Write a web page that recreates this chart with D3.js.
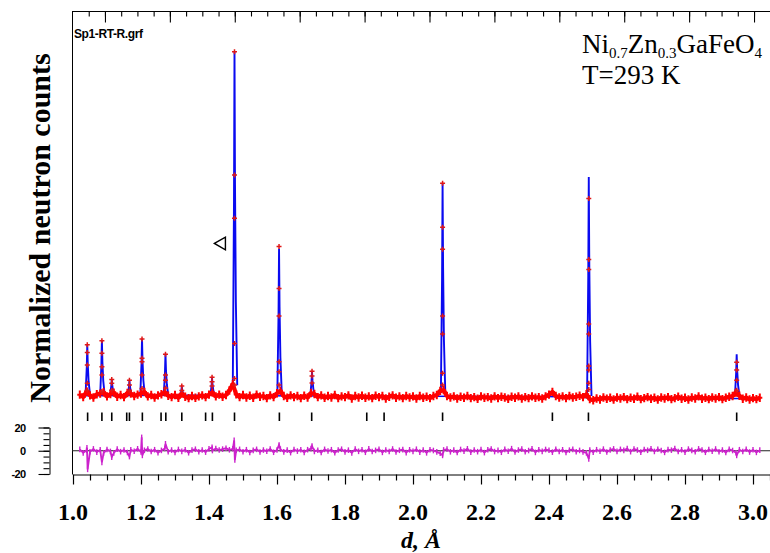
<!DOCTYPE html>
<html><head><meta charset="utf-8">
<script src="https://cdn.jsdelivr.net/npm/d3@7"></script>
<style>body{margin:0;background:#fff}svg{display:block}</style>
</head><body><svg id="c" width="770" height="553"></svg>
<script>
// ---------------- data ----------------
const obsStart = 1.02, obsStep = 0.01;
// observed background (normalized counts) every 0.01 Å from 1.02 to 3.02
const obsBackground = [
 5.3,4.6,6.2,5.1,4.5,5.4,5.6,6.0,
 4.8,5.5,5.9,4.7,5.2,4.6,5.8,5.6,4.9,5.3,
 5.6,6.1,4.8,5.2,4.5,5.1,5.4,6.0,5.0,4.6,
 5.2,4.4,5.6,4.7,4.3,4.9,4.4,4.8,5.1,4.6,
 5.3,5.9,4.8,5.3,4.7,5.2,6.5,8.3,5.4,4.6,
 5.2,4.5,5.0,4.4,5.3,4.7,4.9,4.3,5.1,4.6,
 5.7,6.4,4.9,4.4,5.1,4.6,4.9,4.3,5.0,4.5,
 5.8,5.5,4.6,5.1,4.4,4.9,4.5,5.2,4.3,4.8,
 4.6,5.1,4.2,4.9,4.5,5.0,4.4,4.8,4.3,5.0,
 4.6,4.9,4.2,4.7,5.1,4.4,4.8,4.3,4.9,4.5,
 4.8,4.2,4.9,4.4,4.7,4.3,4.9,5.2,6.4,6.6,
 4.9,4.5,4.8,4.2,4.7,4.4,4.9,4.3,4.6,4.1,
 4.8,4.4,4.6,4.2,4.8,4.3,4.7,4.5,4.1,4.7,
 4.4,4.8,4.2,4.6,4.3,4.8,4.4,4.6,4.2,4.8,
 5.3,6.1,4.9,4.5,4.8,4.3,4.9,4.5,4.7,5.0,
 4.6,5.4,4.0,3.7,4.2,3.9,4.5,4.1,4.4,3.9,
 4.5,4.2,4.6,4.0,4.4,4.1,4.7,4.0,4.3,4.6,
 4.1,4.4,3.9,4.5,4.2,4.6,4.0,4.3,4.7,4.1,
 4.4,3.9,4.5,4.2,4.8,4.1,4.4,4.0,4.5,4.2,
 4.6,4.0,4.4,4.7,4.9,5.9,5.0,4.1,4.5,3.9,
 4.3,4.0,4.4
];
// difference curve (obs - calc) on the same grid
const residual = [
 1.2,-1.8,0.5,-0.9,1.6,-1.2,0.8,-2.0,
 1.1,-0.6,-1.9,1.4,-0.8,0.6,-1.5,0.9,-0.4,1.7,
 -1.1,0.4,1.5,-0.7,0.9,-1.6,0.3,2.0,-0.8,0.6,
 -1.4,1.1,-0.5,0.8,-1.7,0.5,1.3,-0.9,0.7,-1.2,
 1.6,0.2,1.9,0.6,1.4,2.1,0.8,1.7,0.4,1.2,
 -0.8,0.9,-1.5,0.3,1.2,-1.1,0.6,-0.4,1.5,-1.3,
 0.7,1.4,-1.0,0.5,-1.6,1.1,-0.3,0.8,-1.4,0.9,
 1.8,-0.6,0.4,-1.5,1.2,-0.2,0.9,-1.7,0.6,1.3,
 -1.0,0.5,-1.8,1.4,-0.5,0.8,-1.3,1.6,-0.7,0.3,
 1.2,-1.4,0.7,-0.6,1.5,-1.1,0.4,1.0,-1.6,0.8,
 -0.5,1.3,-1.2,0.6,-1.8,0.9,0.2,-1.0,-2.2,0.7,
 1.4,-0.9,0.5,-1.5,1.1,-0.3,1.7,-1.2,0.6,-0.8,
 1.0,-1.6,0.8,1.5,-0.7,0.3,-1.3,1.2,-0.4,1.8,
 -1.1,0.6,1.4,-0.9,0.2,1.6,-1.4,0.9,-0.5,1.1,
 0.4,-1.2,1.3,-0.6,0.8,-1.5,0.5,1.2,-0.8,0.3,
 -1.0,-1.8,0.6,-1.3,0.9,-0.4,1.4,-1.1,0.7,1.6,
 -0.5,1.2,0.3,1.8,-0.8,1.5,0.6,-1.2,1.1,0.4,
 1.7,-0.6,1.3,0.2,-1.4,1.0,0.5,1.9,-0.7,0.8,
 -1.2,1.4,0.3,-0.9,1.6,0.7,-1.3,1.1,-0.4,1.5,
 -0.8,0.6,-1.5,1.2,0.2,-1.7,0.9,-0.6,1.3,-1.1,
 0.8,-1.4,0.5
];
// difference spikes at the reflections
const residSpikeD = [1.041,1.043,1.085,1.114,1.166,1.202,1.204,1.272,1.409,1.474,1.476,1.606,1.703,2.087,2.517,2.952];
const residSpikeV = [2.5,-16,-10,-5.5,-5,11.5,-4,6,3,9,-8,5,4,-4,-7,-4];

// Bragg peaks: position, calculated top, profile base, observed points on the peak
const peakD    = [1.042,1.085,1.114,1.166,1.203,1.272,1.320,1.409,1.475,1.606,1.703,2.087,2.517,2.952];
const peakCalc = [19.7,21.0,9.8,9.3,21.4,17.1,7.6,10.1,104.6,47.5,12.0,66.4,68.2,17.0];
const peakBase = [5.4,5.4,5.2,5.2,5.4,5.3,4.9,5.1,8.0,5.6,5.2,5.8,4.9,5.2];
const peakObs = [
 [19.7,17.5,13.9,8.6,6.6],
 [20.9,17.3,13.4,11.0,6.2],
 [9.7,8.6,6.6],
 [9.5,8.1,6.4],
 [21.4,15.8,14.8,11.0,7.1],
 [17.0,11.0,9.5,7.2],
 [7.8,6.5],
 [10.3,9.0,7.8],
 [104.4,68.8,56.3,20.1,10.0,8.1],
 [48.1,36.0,28.0,14.8,11.9,8.1],
 [12.1,10.7,8.7],
 [66.4,53.7,47.3,28.0,22.8,11.5,8.1],
 [62.0,44.4,41.5,25.7,22.8,13.6,12.4,8.6,6.8],
 [14.7,12.4,9.5,6.6]
];
// calculated background knots
const calcBgD = [1.02,1.45,1.47,1.48,2.50,2.52,3.02];
const calcBgV = [5.0,5.2,8.0,5.0,4.7,4.1,4.2];
// reflection positions (tick marks)
const braggD = [1.043,1.085,1.114,1.158,1.166,1.204,1.259,1.273,1.320,1.390,1.410,1.475,
                1.607,1.702,1.864,1.915,2.087,2.410,2.516,2.952];
// axis ticks
const xMajor = [1.0,1.2,1.4,1.6,1.8,2.0,2.2,2.4,2.6,2.8,3.0];
const xTickLabels = ["1.0","1.2","1.4","1.6","1.8","2.0","2.2","2.4","2.6","2.8","3.0"];
const residMajor = [-20,0,20];
const residLabels = ["-20","0","20"];
// annotation marker
const noteD = [1.4375], noteV = [49];

// ---------------- drawing ----------------
const svg = d3.select("#c");
const x = d3.scaleLinear().domain([1.0,3.05]).range([73,770]);
const y = d3.scaleLinear().domain([0,100]).range([413,67]);
const yr = d3.scaleLinear().domain([-20,20]).range([474,427.5]);

const serif = "'Liberation Serif','Times New Roman',serif";
const sans = "'Liberation Sans',Arial,sans-serif";

// frame
svg.append("line").attr("x1",72.5).attr("x2",72.5).attr("y1",11.5).attr("y2",474.5).attr("stroke","#000");
svg.append("line").attr("x1",72).attr("x2",770).attr("y1",11.5).attr("y2",11.5).attr("stroke","#000");

// bottom axis
const xMinor = d3.range(0,42).map(i=>+(1.0+i*0.05).toFixed(2)).filter(v=>!xMajor.some(m=>Math.abs(m-v)<1e-6));
const gB = svg.append("g").attr("transform","translate(0,474.5)");
gB.call(d3.axisBottom(x).tickValues(xMajor).tickSize(10).tickSizeOuter(0).tickFormat(""));
gB.append("g").call(d3.axisBottom(x).tickValues(xMinor).tickSize(6).tickSizeOuter(0).tickFormat(""))
  .select(".domain").remove();
gB.selectAll("line").attr("stroke","#000").attr("stroke-width",1.2);
gB.selectAll(".domain").attr("stroke","#000");
svg.selectAll(".xlab").data(xMajor).enter().append("text")
  .attr("x",d=>x(d)).attr("y",520).attr("text-anchor","middle")
  .attr("font-family",serif).attr("font-weight","bold").attr("font-size",24)
  .text((d,i)=>xTickLabels[i]);
svg.append("text").attr("x",421).attr("y",548).attr("text-anchor","middle")
  .attr("font-family",serif).attr("font-weight","bold").attr("font-style","italic").attr("font-size",24)
  .text("d, Å");

// top axis (time-of-flight style ticks, no labels)
const topAnchor = 3.003, topStep = 0.1909;
const topMajor = d3.range(0,11).map(k=>topAnchor-k*topStep).filter(v=>v>=1.0);
const topMinor = d3.range(0,45).map(k=>topAnchor-k*topStep/4).filter(v=>v>=1.0);
const gT = svg.append("g").attr("transform","translate(0,11.5)");
gT.call(d3.axisBottom(x).tickValues(topMajor).tickSize(11).tickSizeOuter(0).tickFormat(""));
gT.append("g").call(d3.axisBottom(x).tickValues(topMinor).tickSize(5).tickSizeOuter(0).tickFormat("")).select(".domain").remove();
gT.selectAll("line").attr("stroke","#000").attr("stroke-width",1.1);
gT.selectAll(".domain").remove();

// residual axis
const gR = svg.append("g").attr("transform","translate(49.5,0)");
gR.call(d3.axisLeft(yr).tickValues(residMajor).tickSize(11).tickSizeOuter(0).tickPadding(13)
  .tickFormat((d,i)=>residLabels[i]));
gR.append("g").call(d3.axisLeft(yr).tickValues(d3.range(-20,21,5)).tickSize(6).tickSizeOuter(0).tickFormat(""))
  .select(".domain").remove();
gR.selectAll("line").attr("stroke","#000").attr("stroke-width",1.1);
gR.selectAll(".domain").attr("stroke","#000");
gR.selectAll("text").attr("font-family",sans).attr("font-weight","bold").attr("font-size",11)
  .attr("letter-spacing",-0.6).attr("fill","#000");

// y label
svg.append("text").attr("transform","translate(50,228) rotate(-90)").attr("text-anchor","middle")
  .attr("font-family",serif).attr("font-weight","bold").attr("font-size",30).text("Normalized neutron counts");

// file label
svg.append("text").attr("x",74).attr("y",37.5).attr("font-family",sans).attr("font-weight","bold")
  .attr("font-size",12).attr("letter-spacing",-0.4).text("Sp1-RT-R.grf");

// title
const t1 = svg.append("text").attr("x",582).attr("y",53).attr("font-family",serif).attr("font-size",27);
[["Ni",0],["0.7",1],["Zn",0],["0.3",1],["GaFeO",0],["4",1]].forEach(([s,sub])=>{
  const ts = t1.append("tspan").text(s);
  if(sub){ ts.attr("font-size",15).attr("dy",5); } else { ts.attr("dy", t1.node().childNodes.length>1?-5:0); }
});
svg.append("text").attr("x",582).attr("y",84).attr("font-family",serif).attr("font-size",27).text("T=293 K");

// calculated profile (blue): background + one spike per reflection
const line = d3.line().x(p=>x(p[0])).y(p=>y(p[1]));
svg.append("path").attr("d",line(calcBgD.map((d,i)=>[d,calcBgV[i]])))
  .attr("fill","none").attr("stroke","#0a0af0").attr("stroke-width",1.5);
const spikes = peakD.map((d,i)=>{
  const b=peakBase[i], h=peakCalc[i];
  return [[d-0.005,b],[d-0.0015,b+0.55*(h-b)],[d,h],[d+0.0015,b+0.6*(h-b)],[d+0.004,b+0.25*(h-b)],[d+0.008,b]];
});
svg.append("g").selectAll("path").data(spikes).enter().append("path")
  .attr("d",line).attr("fill","none").attr("stroke","#0a0af0").attr("stroke-width",1.9);

// observed (red)
const obsPts = obsBackground.map((v,i)=>[obsStart+i*obsStep,v]);
svg.append("path").attr("d",line(obsPts)).attr("fill","none").attr("stroke","#ff0000").attr("stroke-width",4.2)
  .attr("stroke-linejoin","round");
svg.append("g").selectAll("path").data(obsPts).enter().append("path")
  .attr("d",p=>{const cx=x(p[0]),cy=y(p[1]);return `M${cx},${cy-4.2}V${cy+4.2}M${cx-2.5},${cy}H${cx+2.5}`;})
  .attr("stroke","#ff0000").attr("stroke-width",2);
const peakPts = [];
peakD.forEach((d,i)=>peakObs[i].forEach(v=>peakPts.push([d,v])));
svg.append("g").selectAll("path").data(peakPts).enter().append("path")
  .attr("d",p=>{const cx=x(p[0]),cy=y(p[1]);return `M${cx},${cy-2.5}V${cy+2.5}M${cx-2.5},${cy}H${cx+2.5}`;})
  .attr("stroke","#e01818").attr("stroke-width",1.5);

// reflection ticks
svg.append("g").selectAll("line").data(braggD).enter().append("line")
  .attr("x1",d=>x(d)).attr("x2",d=>x(d)).attr("y1",412.5).attr("y2",421)
  .attr("stroke","#000").attr("stroke-width",1.6);

// difference curve
svg.append("line").attr("x1",72).attr("x2",770).attr("y1",yr(0)).attr("y2",yr(0)).attr("stroke","#222").attr("stroke-width",1);
const resPts = residual.map((v,i)=>[obsStart+i*obsStep,v]).concat(residSpikeD.map((d,i)=>[d,residSpikeV[i]]));
resPts.sort((a,b)=>a[0]-b[0]);
const rline = d3.line().x(p=>x(p[0])).y(p=>yr(p[1]));
svg.append("path").attr("d",rline(resPts)).attr("fill","none").attr("stroke","#cc22cc").attr("stroke-width",1.8);
svg.append("g").selectAll("line").data(resPts).enter().append("line")
  .attr("x1",p=>x(p[0])).attr("x2",p=>x(p[0])).attr("y1",p=>yr(p[1])-2.8).attr("y2",p=>yr(p[1])+2.8)
  .attr("stroke","#cc22cc").attr("stroke-width",1.4);

// annotation marker (open triangle)
svg.selectAll(".note").data(noteD).enter().append("path")
  .attr("d",d3.symbol(d3.symbolTriangle,70)())
  .attr("transform",(d,i)=>`translate(${x(d)},${y(noteV[i])}) rotate(-90)`)
  .attr("fill","none").attr("stroke","#000").attr("stroke-width",1.4);
</script></body></html>
